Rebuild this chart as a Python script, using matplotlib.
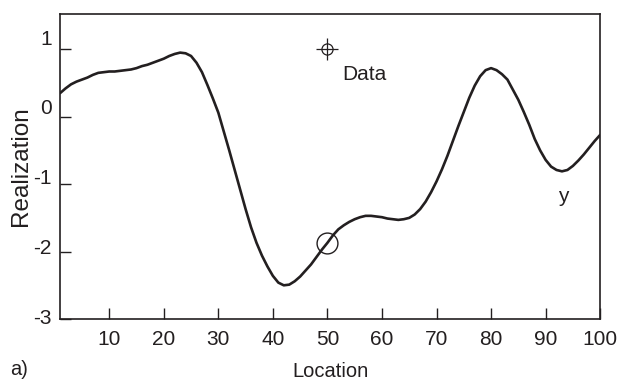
import matplotlib
matplotlib.use("Agg")
import matplotlib.pyplot as plt
import matplotlib.transforms as mtransforms

plt.rcParams['font.family'] = ['Liberation Sans', 'DejaVu Sans']
plt.rcParams['axes.unicode_minus'] = False

# realization at locations 1..100
location = list(range(1, 101))
realization = [
    0.35, 0.42, 0.48, 0.52, 0.55, 0.58, 0.62, 0.65, 0.66, 0.67,      # 1-10
    0.67, 0.68, 0.69, 0.70, 0.72, 0.75, 0.77, 0.80, 0.83, 0.86,      # 11-20
    0.90, 0.93, 0.95, 0.94, 0.90, 0.80, 0.66, 0.47, 0.27, 0.06,      # 21-30
    -0.22, -0.50, -0.79, -1.08, -1.37, -1.64, -1.87, -2.06, -2.22, -2.36,  # 31-40
    -2.46, -2.50, -2.49, -2.44, -2.37, -2.28, -2.19, -2.08, -1.97, -1.87,  # 41-50
    -1.76, -1.67, -1.61, -1.56, -1.52, -1.49, -1.47, -1.47, -1.48, -1.49,  # 51-60
    -1.51, -1.52, -1.53, -1.52, -1.50, -1.45, -1.37, -1.26, -1.12, -0.96,  # 61-70
    -0.78, -0.58, -0.36, -0.14, 0.07, 0.28, 0.46, 0.60, 0.69, 0.72,        # 71-80
    0.69, 0.63, 0.55, 0.40, 0.25, 0.07, -0.12, -0.33, -0.50, -0.64,        # 81-90
    -0.74, -0.79, -0.81, -0.79, -0.73, -0.65, -0.56, -0.46, -0.36, -0.27,  # 91-100
]

data_x, data_y = 50, -1.87        # conditioning datum on the curve
legend_x, legend_y = 50, 1.0      # legend symbol

xticks = [10, 20, 30, 40, 50, 60, 70, 80, 90, 100]
yticks = [-3, -2, -1, 0, 1]

ink = '#231f20'

fig = plt.figure(figsize=(6.2, 3.83), dpi=100)
ax = fig.add_axes([0.097, 0.167, 0.871, 0.796])

ax.plot(location, realization, color=ink, lw=1.9, solid_joinstyle='round',
        solid_capstyle='round')
ax.plot(data_x, data_y, 'o', ms=15, mfc='none', mec=ink, mew=1.0)

# legend symbol: circle with cross
ax.plot(legend_x, legend_y, 'o', ms=8, mfc='none', mec=ink, mew=0.9)
ax.plot(legend_x, legend_y, '+', ms=16, mec=ink, mew=0.9)
ax.text(52.7, 0.62, 'Data', fontsize=15, color=ink, va='center', ha='left')
ax.text(93.2, -1.18, 'y', fontsize=15, color=ink, va='center', ha='center')

ax.set_xlim(1, 100)
ax.set_ylim(-3, 1.52)
ax.set_xticks(xticks)
ax.set_yticks(yticks)
ax.tick_params(direction='in', length=8, width=1, color=ink, labelsize=15,
               labelcolor=ink)
ax.tick_params(axis='x', pad=8)
ax.tick_params(axis='y', pad=6)
# tick labels sit a little above their ticks, more so towards the top
for i, lab in enumerate(ax.get_yticklabels()):
    lift = (3 + 2.3 * i) / 100
    lab.set_transform(lab.get_transform() +
                      mtransforms.ScaledTranslation(0, lift, fig.dpi_scale_trans))
for s in ax.spines.values():
    s.set_linewidth(1.2)
    s.set_color(ink)

ax.set_xlabel('Location', fontsize=14.5, color=ink, labelpad=9)
ax.set_ylabel('Realization', fontsize=17.5, color=ink, labelpad=1)
fig.text(0.016, 0.034, 'a)', fontsize=14.5, color=ink, va='center', ha='left')

fig.savefig('out.png', dpi=100)
